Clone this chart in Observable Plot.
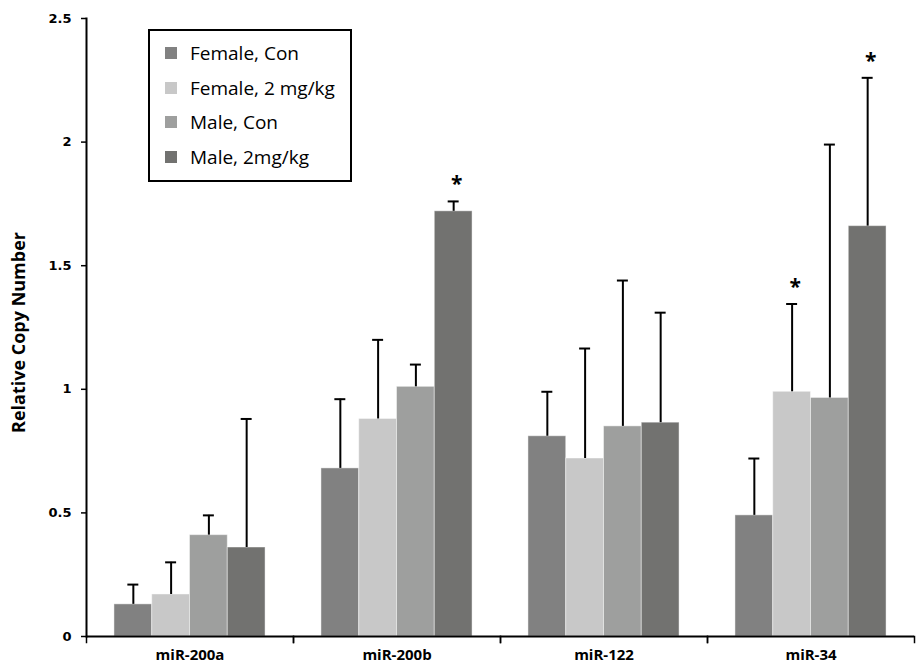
<!DOCTYPE html>
<html>
<head>
<meta charset="utf-8">
<script src="https://cdn.jsdelivr.net/npm/d3@7"></script>
<script src="https://cdn.jsdelivr.net/npm/@observablehq/plot@0.6"></script>
<style>
  body { margin: 0; background: #fff; font-family: "Open Sans", sans-serif; }
  #wrap { position: relative; width: 920px; height: 671px; }
  #legend { position: absolute; left: 148px; top: 29px; width: 204px; height: 153px;
            border: 2px solid #000; background: #fff; padding-top: 5px; box-sizing: border-box; }
  .row { height: 34.5px; display: flex; align-items: center; padding-left: 15px;
         font-size: 19px; color: #000; white-space: nowrap; }
  .sw { width: 12px; height: 12px; margin-right: 13px; flex: none; }
</style>
</head>
<body>
<div id="wrap"><div id="chart"></div><div id="legend"></div></div>
<script>
const groups = ["miR-200a", "miR-200b", "miR-122", "miR-34"];
const series = ["Female, Con", "Female, 2 mg/kg", "Male, Con", "Male, 2mg/kg"];
const femaleCon    = [0.13, 0.68, 0.81, 0.49];
const femaleConErr = [0.08, 0.28, 0.18, 0.23];
const female2      = [0.17, 0.88, 0.72, 0.99];
const female2Err   = [0.13, 0.32, 0.445, 0.355];
const maleCon      = [0.41, 1.01, 0.85, 0.965];
const maleConErr   = [0.08, 0.09, 0.59, 1.025];
const male2        = [0.36, 1.72, 0.865, 1.66];
const male2Err     = [0.52, 0.04, 0.445, 0.60];
const significant  = [["miR-200b", "Male, 2mg/kg"], ["miR-34", "Female, 2 mg/kg"], ["miR-34", "Male, 2mg/kg"]];
const yTicks = [0, 0.5, 1, 1.5, 2, 2.5];
const yLabel = "Relative Copy Number";

const colors = ["#818181", "#c8c8c8", "#9e9f9e", "#727270"];

const seriesValues = [femaleCon, female2, maleCon, male2];
const seriesErrors = [femaleConErr, female2Err, maleConErr, male2Err];
const rows = [];
groups.forEach((g, gi) => series.forEach((s, si) => {
  const v = seriesValues[si][gi], e = seriesErrors[si][gi];
  rows.push({group: g, series: s, value: v, top: v + e,
             sig: significant.some(([a, b]) => a === g && b === s)});
}));

const W = 920, H = 671, mt = 18, mb = 35, ml = 86, mr = 6;
const innerH = H - mt - mb;

const chart = Plot.plot({
  width: W, height: H,
  marginTop: mt, marginBottom: mb, marginLeft: ml, marginRight: mr,
  style: {fontFamily: "Open Sans, sans-serif", color: "#000", background: "#fff"},
  fx: {domain: groups, padding: 0, label: null},
  x: {domain: series, paddingInner: 0, paddingOuter: 0.74, round: false, axis: null},
  y: {domain: [0, 2.5], label: null},
  color: {domain: series, range: colors},
  marks: [
    Plot.barY(rows, {fx: "group", x: "series", y: "value", fill: "series",
                     stroke: "#ffffff", strokeOpacity: 0.45, strokeWidth: 1}),
    Plot.ruleY([0], {stroke: "#000", strokeWidth: 2}),
    Plot.frame({anchor: "left", fx: () => groups[0], stroke: "#000", strokeWidth: 2}),
    Plot.frame({anchor: "left", insetTop: innerH, insetBottom: -6, stroke: "#000", strokeWidth: 1.5}),
    Plot.frame({anchor: "right", insetTop: innerH, insetBottom: -6, stroke: "#000", strokeWidth: 1.5}),
    Plot.ruleX(rows, {fx: "group", x: "series", y1: "value", y2: "top", stroke: "#000", strokeWidth: 2}),
    Plot.tickY(rows, {fx: "group", x: "series", y: "top", insetLeft: 13.4, insetRight: 13.4,
                      stroke: "#000", strokeWidth: 2}),
    Plot.text(rows.filter(d => d.sig), {fx: "group", x: "series", y: "top", text: () => "*",
                      dy: -17, dx: 3, fontSize: 21, fontWeight: "bold", fill: "#000"}),
    Plot.axisY({ticks: yTicks, tickFormat: d => String(d), tickSize: 5, tickPadding: 10,
                fontSize: 13, fontWeight: "bold", fontFamily: "DejaVu Sans", strokeWidth: 1.5, label: null}),
    Plot.text([yLabel], {fx: () => groups[0], frameAnchor: "left", text: d => d, rotate: -90,
                textAnchor: "middle", lineAnchor: "middle",
                dx: -67, dy: 5, fontSize: 18, fontWeight: "bold", fill: "#000"}),
    Plot.axisFx({anchor: "bottom", tickSize: 0, tickPadding: 13, fontSize: 15, fontWeight: "bold", label: null})
  ]
});
document.getElementById("chart").appendChild(chart);

const legend = document.getElementById("legend");
series.forEach((s, i) => {
  const row = document.createElement("div");
  row.className = "row";
  const sw = document.createElement("span");
  sw.className = "sw";
  sw.style.background = colors[i];
  row.appendChild(sw);
  row.appendChild(document.createTextNode(s));
  legend.appendChild(row);
});
</script>
</body>
</html>
